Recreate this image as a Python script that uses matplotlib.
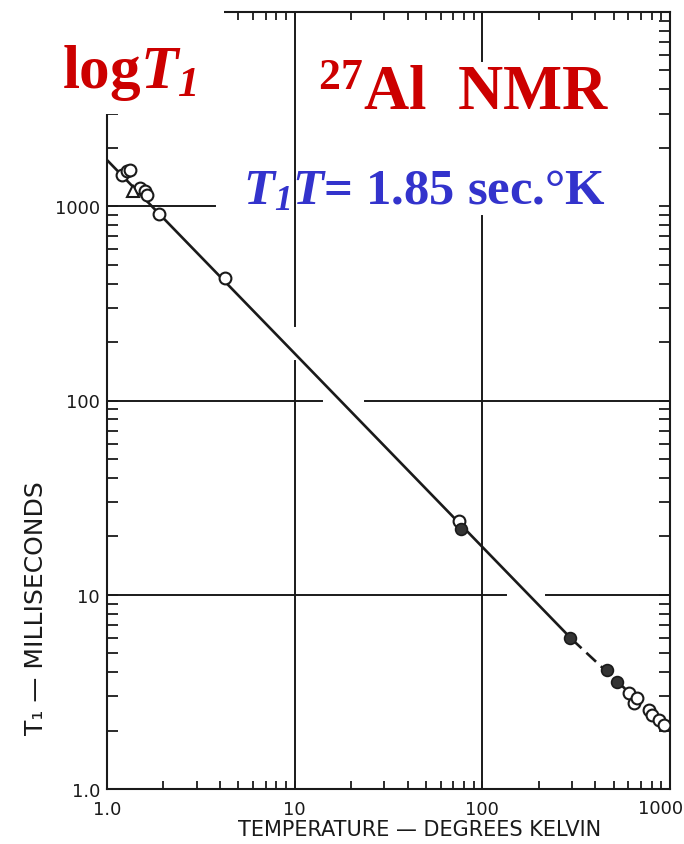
import matplotlib
matplotlib.use("Agg")
import matplotlib.pyplot as plt
from matplotlib.patches import Rectangle
from matplotlib.ticker import LogLocator, NullFormatter

open_T = [1.20, 1.28, 1.33, 1.50, 1.59, 1.63, 1.89, 4.24, 75.5,
          605, 644, 667, 773, 801, 873, 929]
open_T1 = [1446, 1517, 1535, 1239, 1196, 1140, 909, 425, 24.0,
           3.12, 2.77, 2.94, 2.55, 2.40, 2.26, 2.13]
tri_T = [1.37]
tri_T1 = [1196]
filled_T = [76.5, 294, 462, 523]
filled_T1 = [21.8, 6.0, 4.1, 3.55]

# fitted line T1*T = const, solid part then dashed part
fit_T = [1.0, 300]
fit_T1 = [1730, 5.9]
fit2_T = [300, 1000]
fit2_T1 = [5.9, 2.0]

x_ticks = [1, 10, 100, 1000]
x_labels = ["1.0", "10", "100", ""]
y_ticks = [1, 10, 100, 1000]
y_labels = ["1.0", "10", "100", "1000"]

W, H = 684, 845
ink = "#1a1a1a"
red = "#cc0000"
blue = "#3333cc"

plt.rcParams["mathtext.fontset"] = "custom"
plt.rcParams["mathtext.rm"] = "Liberation Serif:bold"
plt.rcParams["mathtext.bf"] = "Liberation Serif:bold"
plt.rcParams["mathtext.it"] = "Liberation Serif:italic:bold"
plt.rcParams["mathtext.sf"] = "Liberation Serif:italic:bold"  # italic digits

fig = plt.figure(figsize=(W / 100, H / 100), dpi=100)
ax = fig.add_axes([107 / W, 1 - 790 / H, 563 / W, 777 / H])
ax.set_xscale("log")
ax.set_yscale("log")
ax.set_xlim(1, 1000)
ax.set_ylim(1, 10000)

# hand-drawn style grid, with gaps where the curve crosses
grid_h = {1000: [(1, 3.75)], 100: [(1, 13.9), (23.6, 1000)], 10: [(1, 134), (219, 1000)]}
grid_v = {10: [(1, 160), (243, 10000)], 100: [(1, 888), (5610, 10000)]}
for yv, segs in grid_h.items():
    for a, b in segs:
        ax.plot([a, b], [yv, yv], color=ink, lw=1.4, zorder=1)
for xv, segs in grid_v.items():
    for a, b in segs:
        ax.plot([xv, xv], [a, b], color=ink, lw=1.4, zorder=1)

ax.plot(fit_T, fit_T1, color=ink, lw=1.9, zorder=2)
ax.plot(fit2_T, fit2_T1, color=ink, lw=1.9, dashes=(5, 2.5), zorder=2)

ax.plot(open_T, open_T1, "o", ms=8.5, mfc="white", mec=ink, mew=1.5, zorder=4)
ax.plot(tri_T, tri_T1, "^", ms=9, mfc="white", mec=ink, mew=1.5, zorder=4)
ax.plot(filled_T, filled_T1, "o", ms=8.5, mfc="#333333", mec=ink, mew=1.2, zorder=4)

for s in ax.spines.values():
    s.set_linewidth(1.5)
    s.set_color(ink)

ax.xaxis.set_minor_locator(LogLocator(base=10, subs=range(2, 10)))
ax.yaxis.set_minor_locator(LogLocator(base=10, subs=range(2, 10)))
ax.xaxis.set_minor_formatter(NullFormatter())
ax.yaxis.set_minor_formatter(NullFormatter())
ax.set_xticks(x_ticks, x_labels)
ax.set_yticks(y_ticks, y_labels)
ax.tick_params(which="both", direction="in", top=True, right=True,
               color=ink, width=1.3, labelsize=13, labelcolor=ink)
ax.tick_params(axis="x", which="both", length=6, pad=8)
ax.tick_params(axis="y", which="both", length=8, pad=5)
# last x label sits against the right edge of the page
fig.text(683 / W, 1 - 809 / H, "1000", ha="right", va="center", fontsize=13, color=ink)

# the upper-left corner of the scan is blanked out for the label
ax.add_patch(Rectangle((-0.02, 0.869), 0.228, 0.2, transform=ax.transAxes,
                       facecolor="white", edgecolor="none", clip_on=False, zorder=3))

fig.text(420 / W, 1 - 830 / H, "TEMPERATURE — DEGREES KELVIN", ha="center", va="center",
         fontsize=15, color=ink)
fig.text(36 / W, 1 - 608 / H, "T\u2081 — MILLISECONDS", ha="center", va="center",
         rotation=90, fontsize=18, color=ink)

fig.text(62 / W, 1 - 88 / H, r"log$\mathit{T}_{\mathsf{1}}$", ha="left", va="baseline",
         fontsize=44, color=red, family="Liberation Serif", weight="bold")
fig.text(318 / W, 1 - 110 / H, r"$^{27}$Al  NMR", ha="left", va="baseline",
         fontsize=45, color=red, family="Liberation Serif", weight="bold")
fig.text(243 / W, 1 - 204 / H, r"$\mathit{T}_{\mathsf{1}}\mathit{T}$= 1.85 sec.°K",
         ha="left", va="baseline",
         fontsize=36.5, color=blue, family="Liberation Serif", weight="bold")

fig.savefig("out.png", dpi=100)
